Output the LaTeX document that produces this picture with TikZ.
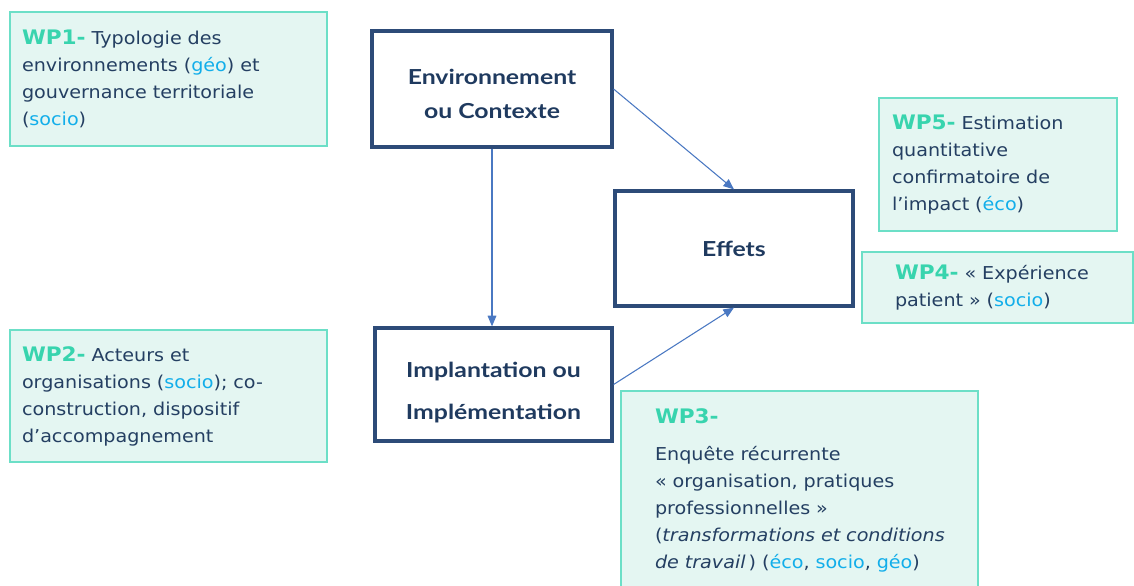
\documentclass[tikz,border=0pt]{standalone}
\usepackage{fontspec}
\usepackage{tikz}
\usetikzlibrary{arrows.meta}
\newfontfamily\wpfont[FakeStretch=1.08]{DejaVu Sans}
\newfontfamily\blocfont[FakeStretch=1.2]{Lato}
\definecolor{NAVY}{HTML}{2D4B78}
\definecolor{NAVYTEXT}{HTML}{1F3A5F}
\definecolor{BODY}{HTML}{243F62}
\definecolor{ARROW}{HTML}{4A78C2}
\definecolor{WPFILL}{HTML}{E4F6F2}
\definecolor{WPLINE}{HTML}{6CDFC7}
\definecolor{WPGREEN}{HTML}{38D4AE}
\definecolor{FIELD}{HTML}{12AEEA}
\newcommand{\wplabel}[1]{{\bfseries\color{WPGREEN}\fontsize{15}{20.25}\selectfont #1}}
\newcommand{\field}[1]{\textcolor{FIELD}{#1}}
\hyphenpenalty=10000
\exhyphenpenalty=10000

\begin{document}
\begin{tikzpicture}[x=0.75pt, y=-0.75pt,
    blocbox/.style={draw=NAVY, line width=2.4pt, fill=white, text=NAVYTEXT, align=center,
        font=\blocfont\bfseries\fontsize{15.5}{25.5}\selectfont},
    wpbox/.style={draw=WPLINE, line width=1pt, fill=WPFILL, text=BODY, align=left,
        font=\wpfont\fontsize{13.3}{20.25}\selectfont},
    flow/.style={draw=ARROW, line width=0.8pt, -{Triangle[length=8pt,width=6.5pt]}}]
    \useasboundingbox (0,0) rectangle (1134,585);
    %
    % the three blocks
    \node[blocbox, minimum width=180pt, minimum height=87pt, text height=44pt] (env) at (492,89) {Environnement\\ou Contexte};
    \node[blocbox, minimum width=178.5pt, minimum height=86.25pt] (effets) at (734,248.5) {Effets};
    \node[blocbox, minimum width=177.75pt, minimum height=84.75pt, text height=55pt] (impl) at (493.5,384.5) {Implantation ou\\[6pt]Implémentation};
    %
    \draw[flow] (env.south) -- (env.south |- impl.north);
    \draw[flow] (env.east) -- (effets.north);
    \draw[flow] (impl.east) -- (effets.south);
    %
    % work packages
    \node[wpbox, minimum width=237.75pt, minimum height=100.5pt, inner xsep=9pt, text width=219.75pt] (wp1) at (168.5,79)
        {\wplabel{WP1-} Typologie des\\environnements (\field{géo}) et\\gouvernance territoriale\\(\field{socio})};
    \node[wpbox, minimum width=237.75pt, minimum height=99pt, inner xsep=9pt, text width=219.75pt] (wp2) at (168.5,396)
        {\wplabel{WP2-} Acteurs et\\organisations (\field{socio}); co-\\construction, dispositif\\d’accompagnement};
    \node[wpbox, minimum width=178.5pt, minimum height=99.75pt, inner xsep=9.75pt, text width=159pt] (wp5) at (998,164.5)
        {\wplabel{WP5-} Estimation\\quantitative\\confirmatoire de\\l’impact (\field{éco})};
    \node[wpbox, minimum width=203.25pt, minimum height=53.25pt, inner xsep=24.75pt, text width=153.75pt] (wp4) at (997.5,287.5)
        {\wplabel{WP4-} « Expérience\\patient » (\field{socio})};
    \node[wpbox, minimum width=267.75pt, minimum height=149.25pt, inner xsep=25.5pt, text width=216.75pt] (wp3) at (799.5,490.5)
        {\wplabel{WP3-}\\[7pt]Enquête récurrente\\« organisation, pratiques\\professionnelles »\\\mbox{(\textit{transformations et conditions}}\\\textit{de travail}\,) (\field{éco}, \field{socio}, \field{géo})};
\end{tikzpicture}
\end{document}
